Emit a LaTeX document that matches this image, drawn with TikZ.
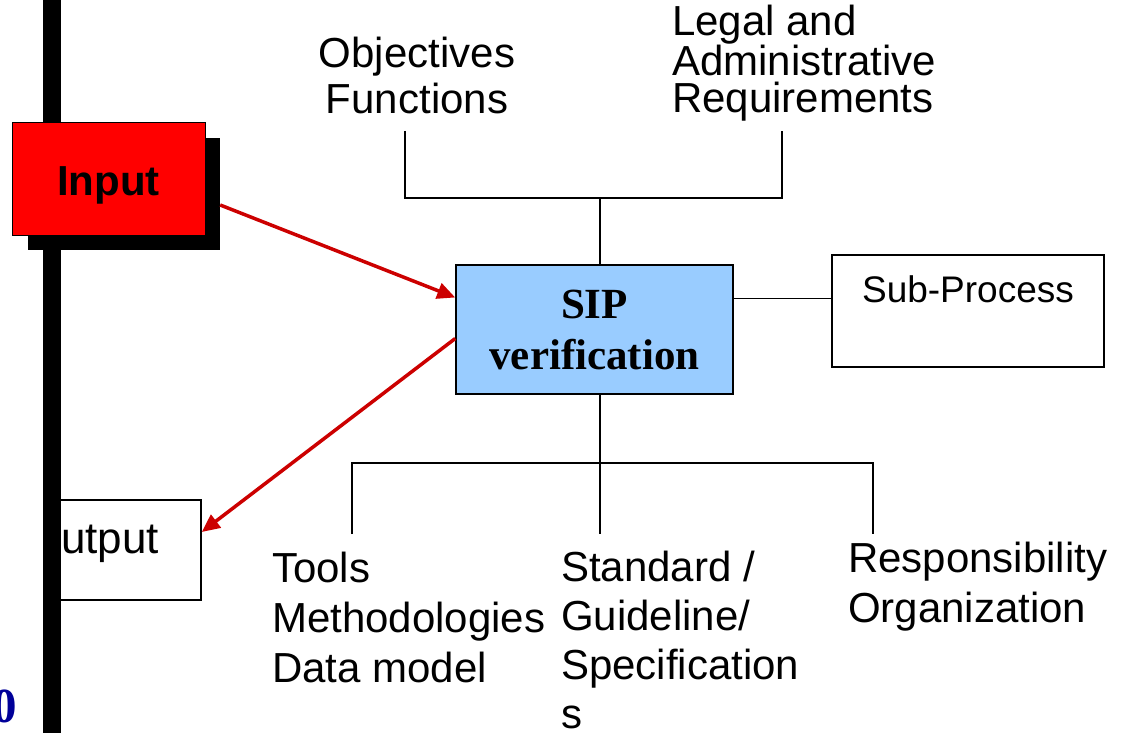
\documentclass[tikz,border=0pt]{standalone}
\usepackage{fontspec}
\setmainfont{Liberation Serif}
\setsansfont{Liberation Sans}
\usetikzlibrary{arrows.meta}
\definecolor{inred}{HTML}{FF0000}
\definecolor{arrred}{HTML}{CC0000}
\definecolor{sipblue}{HTML}{99CCFF}
\definecolor{numblue}{HTML}{000099}
\tikzset{
  box/.style={draw=black, line width=1.5pt, inner sep=0pt},
  lbl/.style={font=\sffamily\fontsize{42}{50}\selectfont, inner sep=0pt, align=left},
  flow/.style={draw=arrred, line width=3.5pt, -{Triangle[length=18pt,width=16pt]}},
  link/.style={line width=1.8pt}
}

\begin{document}
\begin{tikzpicture}[x=1pt,y=-1pt]
\useasboundingbox (0,0) rectangle (1125,733);
\begin{scope}
\clip (43,0) rectangle (1125,733);
\node[box, fill=white, inner xsep=12pt, text width=162pt, minimum height=100pt, align=left, font=\sffamily\fontsize{44}{50}\selectfont, text height=30pt, text depth=24pt] (output) at (108,550) {Output};
\end{scope}
\fill (43,0) rectangle (61,733);
\node[fill=black, inner sep=0pt, minimum width=192pt, minimum height=112pt] (inshadow) at (124,194) {};
\node[box, line width=1pt, fill=inred, minimum width=193pt, minimum height=112pt, font=\sffamily\bfseries\fontsize{42}{50}\selectfont, text height=32pt, text depth=0pt] (input) at (108.5,179) {Input};
\node[box, fill=sipblue, minimum width=277pt, minimum height=129pt, align=center, font=\rmfamily\bfseries\fontsize{43}{51}\selectfont] (sip) at (594.5,329.5) {SIP\\verification};
\node[box, line width=1.2pt, minimum width=272pt, minimum height=112pt, font=\sffamily\fontsize{37}{42}\selectfont, text height=26.5pt, text depth=44.5pt] (subproc) at (968,311) {Sub-Process};
\node[lbl, align=center, anchor=base, font=\sffamily\fontsize{42}{46}\selectfont] (objectives) at (417,114) {Objectives\\Functions};
\node[lbl, anchor=base west, font=\sffamily\fontsize{42}{37.5}\selectfont] (legal) at (672,113) {Legal and\\Administrative\\Requirements};
\node[lbl, anchor=base west] (tools) at (272,682) {Tools\\Methodologies\\Data model};
\node[lbl, anchor=base west, font=\sffamily\fontsize{42}{48.7}\selectfont] (standard) at (561,728) {Standard /\\Guideline/\\Specification\\s};
\node[lbl, anchor=base west] (resp) at (848,622) {Responsibility\\Organization};
\node[inner sep=0pt, anchor=base east, text=numblue, font=\rmfamily\bfseries\fontsize{49}{49}\selectfont] (pagenum) at (17,722) {0};
\coordinate (objfoot) at (405,131);
\coordinate (legfoot) at (782,131);
\coordinate (topjoin) at (600,198);
\coordinate (toolfoot) at (352,534);
\coordinate (stdfoot) at (600,534);
\coordinate (respfoot) at (873,534);
\coordinate (botjoin) at (600,463);
\draw[link] (objfoot) |- (topjoin) -| (legfoot);
\draw[link] (topjoin) -- (topjoin |- sip.north);
\draw[link] (stdfoot |- sip.south) -- (stdfoot);
\draw[link] (toolfoot) |- (botjoin) -| (respfoot);
\draw[link] ([yshift=31pt]sip.east) -- ([yshift=31pt]sip.east -| subproc.west);
\draw[flow] ([yshift=-11pt]inshadow.east) -- ([yshift=32pt]sip.west);
\draw[flow] ([yshift=-9pt]sip.west) -- ([yshift=18pt]output.east);
\end{tikzpicture}
\end{document}
